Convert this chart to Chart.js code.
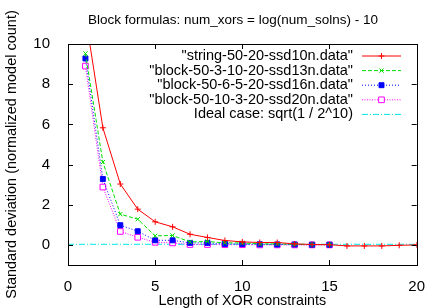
<!DOCTYPE html>
<html>
<head>
<meta charset="utf-8">
<script src="https://cdn.jsdelivr.net/npm/chart.js@4.4.1/dist/chart.umd.min.js"></script>
<style>
  html, body { margin: 0; padding: 0; background: #fff; }
  #wrap { width: 430px; height: 308px; }
</style>
</head>
<body>
<div id="wrap"><canvas id="grafico"></canvas></div>
<script>
// dados
const comprimentos = [1, 2, 3, 4, 5, 6, 7, 8, 9, 10, 11, 12, 13, 14, 15, 16, 17, 18, 19, 20];
const stringSsd10 = [11.4, 5.83, 3.03, 1.78, 1.15, 0.9, 0.53, 0.37, 0.22, 0.15, 0.12, 0.12, 0.05, 0.02, 0.01, -0.05, -0.05, -0.05, -0.02, 0.0];
const block3Ssd13 = [9.53, 4.12, 1.53, 1.28, 0.45, 0.47, 0.15, 0.17, 0.1, 0.1, 0.05, 0.05, 0.03, 0.02, 0.02];
const block6Ssd16 = [9.28, 3.28, 0.98, 0.68, 0.23, 0.23, 0.1, 0.1, 0.05, 0.05, 0.03, 0.02, 0.02, 0.01, 0.01];
const block10Ssd20 = [8.9, 2.88, 0.67, 0.38, 0.13, 0.1, 0.02, 0.02, 0.01, 0.01, 0.0, 0.0, 0.0, 0.0, 0.0];
const casoIdealX = [0, 20];
const casoIdealY = [0.03125, 0.03125];
const legendas = [
  '"string-50-20-ssd10n.data"',
  '"block-50-3-10-20-ssd13n.data"',
  '"block-50-6-5-20-ssd16n.data"',
  '"block-50-10-3-20-ssd20n.data"',
  'Ideal case: sqrt(1 / 2^10)'
];
const titulo = 'Block formulas: num_xors = log(num_solns) - 10';
const xTicks = [0, 5, 10, 15, 20];
const yTicks = [0, 2, 4, 6, 8, 10];

const fonte = 'Liberation Sans, Arial, sans-serif';
const pares = (xs, ys) => ys.map((y, i) => ({ x: xs[i], y: y }));

const serie = (label, dados, cor, dash, estilo, raio, fundo) => ({
  label: label,
  data: dados,
  borderColor: cor,
  backgroundColor: fundo,
  borderWidth: 1,
  borderDash: dash,
  pointStyle: estilo,
  pointRadius: raio,
  pointBorderColor: cor,
  pointBackgroundColor: fundo,
  pointBorderWidth: 1,
  tension: 0,
});

// titulo, moldura, ticks para dentro e legenda no estilo gnuplot
const molduraPlugin = {
  id: 'moldura',
  afterDraw(chart) {
    const { ctx, chartArea: a, scales } = chart;
    ctx.save();
    ctx.fillStyle = '#000';
    ctx.font = '13.5px ' + fonte;
    ctx.textAlign = 'center';
    ctx.textBaseline = 'middle';
    ctx.fillText(titulo, 233, 20);

    ctx.strokeStyle = '#000';
    ctx.lineWidth = 1;
    ctx.strokeRect(Math.round(a.left) + 0.5, Math.round(a.top) + 0.5, Math.round(a.right - a.left), Math.round(a.bottom - a.top));
    ctx.beginPath();
    xTicks.forEach((v) => {
      const px = Math.round(scales.x.getPixelForValue(v)) + 0.5;
      ctx.moveTo(px, a.bottom); ctx.lineTo(px, a.bottom - 5);
      ctx.moveTo(px, a.top); ctx.lineTo(px, a.top + 5);
    });
    yTicks.forEach((v) => {
      const py = Math.round(scales.y.getPixelForValue(v)) + 0.5;
      ctx.moveTo(a.left, py); ctx.lineTo(a.left + 5, py);
      ctx.moveTo(a.right, py); ctx.lineTo(a.right - 5, py);
    });
    ctx.stroke();

    ctx.font = '14.5px ' + fonte;
    ctx.textAlign = 'right';
    chart.data.datasets.forEach((ds, i) => {
      const y = 56 + i * 14.6;
      ctx.fillStyle = '#000';
      ctx.fillText(ds.label, 353, y);
      ctx.beginPath();
      ctx.strokeStyle = ds.borderColor;
      ctx.setLineDash(ds.borderDash || []);
      ctx.moveTo(362, y); ctx.lineTo(401, y);
      ctx.stroke();
      ctx.setLineDash([]);
      if (ds.pointRadius > 0) {
        ctx.strokeStyle = ds.borderColor;
        ctx.fillStyle = ds.pointBackgroundColor;
        Chart.helpers.drawPoint(ctx, { pointStyle: ds.pointStyle, radius: ds.pointRadius, rotation: 0, borderWidth: 1 }, 381.5, y);
      }
    });
    ctx.restore();
  }
};

new Chart(document.getElementById('grafico'), {
  type: 'line',
  data: {
    datasets: [
      serie(legendas[0], pares(comprimentos, stringSsd10), '#ff0000', [], 'cross', 3, '#ff0000'),
      serie(legendas[1], pares(comprimentos, block3Ssd13), '#00e000', [4, 2], 'crossRot', 3, '#00e000'),
      serie(legendas[2], pares(comprimentos, block6Ssd16), '#0000ff', [1, 2], 'rect', 3.5, '#0000ff'),
      serie(legendas[3], pares(comprimentos, block10Ssd20), '#ff00ff', [1, 1.5], 'rect', 4, '#ffffff'),
      serie(legendas[4], pares(casoIdealX, casoIdealY), '#00e8e8', [6, 2, 1, 2], 'circle', 0, '#00e8e8'),
    ]
  },
  options: {
    responsive: true,
    maintainAspectRatio: false,
    animation: false,
    layout: { padding: { left: 0, right: 10, top: 44, bottom: 0 } },
    plugins: {
      legend: { display: false },
      tooltip: { enabled: false },
      title: { display: false }
    },
    scales: {
      x: {
        type: 'linear',
        min: 0,
        max: 20,
        afterBuildTicks: (s) => { s.ticks = xTicks.map((v) => ({ value: v })); },
        afterFit: (s) => { s.height = 43; },
        grid: { display: false },
        border: { display: false },
        ticks: { color: '#000', font: { family: fonte, size: 15 }, padding: 5, maxRotation: 0 },
        title: {
          display: true,
          text: 'Length of XOR constraints',
          color: '#000',
          font: { family: fonte, size: 14.3 },
          padding: { top: 0, bottom: -2 }
        }
      },
      y: {
        type: 'linear',
        min: -1,
        max: 10,
        afterBuildTicks: (s) => { s.ticks = yTicks.map((v) => ({ value: v })); },
        afterFit: (s) => { s.width = 68; },
        grid: { display: false },
        border: { display: false },
        ticks: { color: '#000', font: { family: fonte, size: 15 }, padding: 10 },
        title: {
          display: true,
          text: 'Standard deviation (normalized model count)',
          color: '#000',
          font: { family: fonte, size: 14.5 },
          padding: { top: 3, bottom: 0 }
        }
      }
    }
  },
  plugins: [molduraPlugin]
});
</script>
</body>
</html>
